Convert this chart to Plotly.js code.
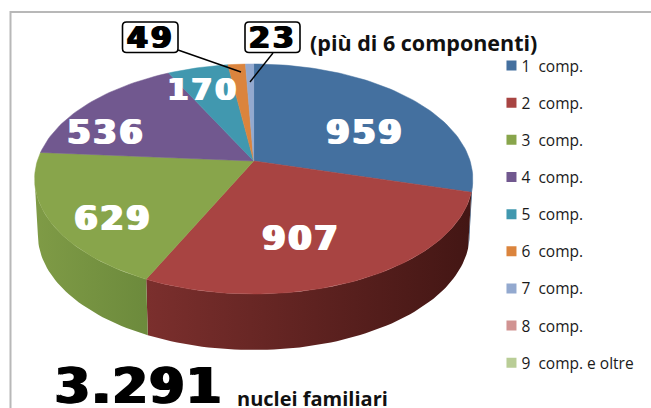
<!DOCTYPE html>
<html><head><meta charset="utf-8">
<script src="https://cdn.plot.ly/plotly-3.0.1.min.js"></script>
<style>html,body{margin:0;padding:0;background:#fff}#c{width:651px;height:408px}
.annotation[data-index="0"] text,.annotation[data-index="1"] text,.annotation[data-index="2"] text,.annotation[data-index="3"] text,.annotation[data-index="4"] text{letter-spacing:3px}
.annotation[data-index="5"] text,.annotation[data-index="6"] text{letter-spacing:3px}
.annotation[data-index="7"] text{letter-spacing:2px}
.legendpoints{transform:translateX(10px)}
</style>
</head><body><div id="c"></div>
<script>
const categories = ["1\u00a0 comp.","2\u00a0 comp.","3\u00a0 comp.","4\u00a0 comp.","5\u00a0 comp.","6\u00a0 comp.","7\u00a0 comp.","8\u00a0 comp.","9\u00a0 comp. e oltre"];
const values = [959,907,629,536,170,49,23,0,0];
const colors = ["#44709f","#a84442","#88a54b","#71588f","#4198af","#db843d","#93a9cf","#d19392","#b9cd96"];
const wallStops = [["#2f4f75","#2f4f75"],["#7b2f2d","#431614"],["#7f9b46","#6c8a3c"]];
const wallSweepStart = [99,null,null];
const wallSweepEnd = [null,null,261];

// Perspective projection of the pie disc onto the page (page pixels on the axes)
const apexX=253.7, apexY=161, radX=216.4, persp=0.1565, tilt=-87, depth=56, rimShrink=0.985;
function rim(tDeg,bottom){
  const t=tDeg*Math.PI/180,u=Math.sin(t),v=Math.cos(t),w=1+persp*v;
  const k=bottom?rimShrink:1;
  return [apexX+k*radX*u/w,(tilt*v+apexY)/w+(bottom?depth:0)];
}
const total=values.reduce((a,b)=>a+b,0);
let cum=0;
const spans=values.map(v=>{const s=cum;cum+=v;return [s/total*360,cum/total*360];});
function arc(a,b,bottom){const p=[];const n=Math.max(2,Math.ceil(Math.abs(b-a)/1.5));
  for(let i=0;i<=n;i++)p.push(rim(a+(b-a)*i/n,bottom));return p;}

const traces=[];
wallStops.forEach((st,i)=>{
  const a=wallSweepStart[i]??spans[i][0], b=wallSweepEnd[i]??spans[i][1];
  const pts=arc(a,b,false).concat(arc(b,a,true));pts.push(pts[0]);
  traces.push({type:"scatter",mode:"lines",x:pts.map(p=>p[0]),y:pts.map(p=>p[1]),fill:"toself",
    line:{width:0,color:st[0]},fillgradient:{type:"horizontal",colorscale:[[0,st[0]],[1,st[1]]]},
    showlegend:false,hoverinfo:"skip"});
});
values.forEach((v,i)=>{
  if(!v)return;
  const pts=[[apexX,apexY]].concat(arc(spans[i][0],spans[i][1],false));pts.push([apexX,apexY]);
  traces.push({type:"scatter",mode:"lines",x:pts.map(p=>p[0]),y:pts.map(p=>p[1]),fill:"toself",
    fillcolor:colors[i],line:{width:0.5,color:colors[i]},showlegend:false,hoverinfo:"skip"});
});
categories.forEach((c,i)=>traces.push({type:"scatter",mode:"markers",x:[null],y:[null],name:c,legendgroup:"g"+i,
  marker:{symbol:"square",size:10,color:colors[i]},showlegend:true}));

const bigFont="DejaVu Sans", noteFont="Open Sans";
function lab(text,x,y,size,color,sh){return {text:"<b>"+text+"</b>",x,y,xref:"x",yref:"y",showarrow:false,
  xanchor:"center",yanchor:"middle",font:{family:bigFont,size,color,shadow:`${sh}px 0 0 ${color}, -${sh}px 0 0 ${color}`}};}
const annotations=[
  lab("959",365,132,33,"#fff",1.5),lab("907",301,238,33,"#fff",1.5),lab("629",113,218,33,"#fff",1.5),
  lab("536",106,132,33,"#fff",1.5),lab("170",203,89,30,"#fff",1.2),
  lab("49",151,37,30,"#000",1.2),lab("23",273,37,30,"#000",1.2),
  lab("3.291",139,386,50,"#000",1.8),
  {text:"<b>(più di 6 componenti)</b>",x:308,y:42,xref:"x",yref:"y",showarrow:false,xanchor:"left",yanchor:"middle",font:{family:noteFont,size:21.5,color:"#111"}},
  {text:"<b>nuclei familiari</b>",x:235,y:398,xref:"x",yref:"y",showarrow:false,xanchor:"left",yanchor:"middle",font:{family:noteFont,size:20,color:"#111"}}
];
function rr(x0,y0,x1,y1,r){return `M${x0+r},${y0}L${x1-r},${y0}Q${x1},${y0} ${x1},${y0+r}L${x1},${y1-r}Q${x1},${y1} ${x1-r},${y1}L${x0+r},${y1}Q${x0},${y1} ${x0},${y1-r}L${x0},${y0+r}Q${x0},${y0} ${x0+r},${y0}Z`;}
const shapes=[
  {type:"path",path:"M10.5,408L10.5,12L651,12",xref:"x",yref:"y",line:{color:"#b8b8b8",width:2}},
  {type:"path",path:rr(122.5,22,178,52.5,4),xref:"x",yref:"y",line:{color:"#000",width:1.6},fillcolor:"#fff"},
  {type:"path",path:rr(245,22,300,52.5,4),xref:"x",yref:"y",line:{color:"#000",width:1.6},fillcolor:"#fff"},
  {type:"line",x0:178,y0:50,x1:241,y1:72,xref:"x",yref:"y",line:{color:"#000",width:1.4}},
  {type:"line",x0:273,y0:53,x1:250,y1:82,xref:"x",yref:"y",line:{color:"#000",width:1.4}}
];
Plotly.newPlot("c",traces,{
  width:651,height:408,margin:{l:0,r:0,t:0,b:0},paper_bgcolor:"#fff",plot_bgcolor:"#fff",
  xaxis:{range:[0,651],visible:false,fixedrange:true},
  yaxis:{range:[408,0],visible:false,fixedrange:true},
  showlegend:true,hovermode:false,
  legend:{x:0.7396,y:0.88,xanchor:"left",yanchor:"top",traceorder:"grouped",tracegroupgap:14,
    font:{family:"Open Sans",size:15.5,color:"#1a1a1a"},bgcolor:"rgba(0,0,0,0)",itemclick:false,itemdoubleclick:false},
  annotations,shapes
},{staticPlot:true,displayModeBar:false});
</script></body></html>
